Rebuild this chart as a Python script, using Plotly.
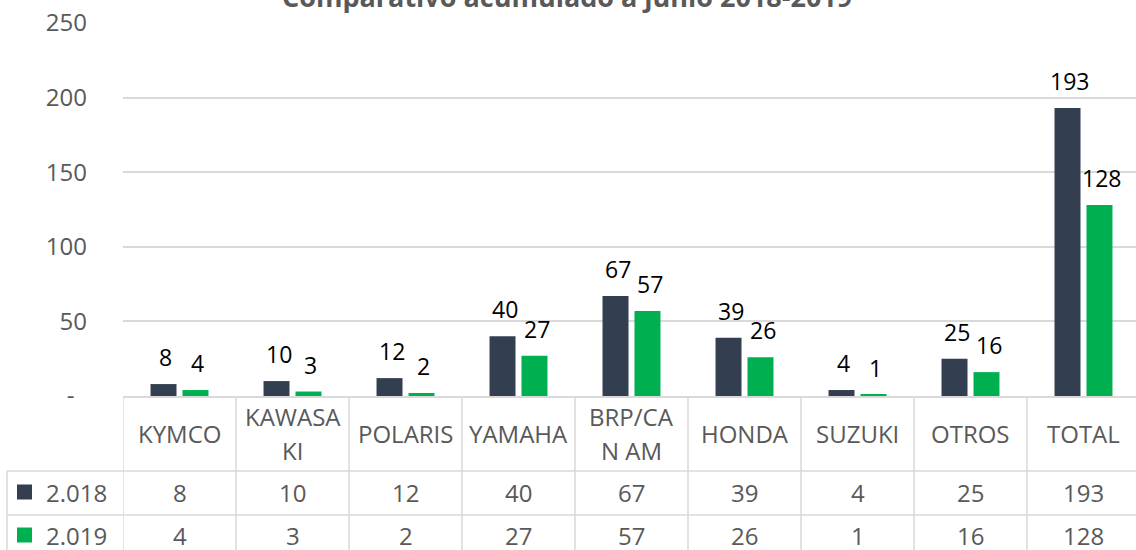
import plotly.graph_objects as go

categories = ["KYMCO", "KAWASAKI", "POLARIS", "YAMAHA", "BRP/CAN AM", "HONDA", "SUZUKI", "OTROS", "TOTAL"]
header_labels = ["KYMCO", "KAWASA\nKI", "POLARIS", "YAMAHA", "BRP/CA\nN AM", "HONDA", "SUZUKI", "OTROS", "TOTAL"]
series_names = ["2.018", "2.019"]
values_2018 = [8, 10, 12, 40, 67, 39, 4, 25, 193]
values_2019 = [4, 3, 2, 27, 57, 26, 1, 16, 128]
colors = ["#333F50", "#00B050"]
title_text = "Comparativo acumulado a junio 2018-2019"
y_ticks = [0, 50, 100, 150, 200, 250]
y_ticktext = ["-\u00a0\u00a0", "50", "100", "150", "200", "250"]

FONT = "Open Sans"
GRAY = "#595959"
LINE = "#D9D9D9"

W, H = 1136, 550
ML, MT, MB = 123, 23, 154
plot_h = H - MT - MB
plot_w = W - ML
cat_w = 113.0

def py(pix):
    """pixel y (from top) -> paper y"""
    return (H - MB - pix) / plot_h

def px(pix):
    return (pix - ML) / plot_w

fig = go.Figure()
series = [values_2018, values_2019]
for name, vals, col in zip(series_names, series, colors):
    fig.add_trace(go.Bar(
        x=list(range(len(categories))), y=vals, name=name,
        marker=dict(color=col, line=dict(width=0)),
        showlegend=False, hoverinfo="skip",
    ))

annotations = []
shapes = []

# data labels
for si, vals in enumerate(series):
    shift = -16 if si == 0 else 16
    for i, v in enumerate(vals):
        annotations.append(dict(
            x=i, y=v, xref="x", yref="y", text=str(v), showarrow=False,
            xshift=shift + 2, yshift=27, yanchor="middle",
            font=dict(family=FONT, size=23, color="#000000"),
        ))

# title (partially cut at top)
annotations.append(dict(
    x=px(567), y=py(17), xref="paper", yref="paper", text="<b>" + title_text + "</b>",
    showarrow=False, xanchor="center", yanchor="bottom",
    font=dict(family=FONT, size=27, color=GRAY),
))

# table header labels
hdr_c = 433
TS = 24
for i, lab in enumerate(header_labels):
    lines = lab.split("\n")
    if len(lines) == 1:
        ys = [hdr_c]
    else:
        ys = [hdr_c - 17, hdr_c + 18]
    for ln, yy in zip(lines, ys):
        annotations.append(dict(
            x=i, y=py(yy), xref="x", yref="paper", text=ln, showarrow=False,
            yanchor="middle", font=dict(family=FONT, size=TS, color=GRAY),
        ))

# table rows
row_c = [492, 535]
for si, vals in enumerate(series):
    for i, v in enumerate(vals):
        annotations.append(dict(
            x=i, y=py(row_c[si]), xref="x", yref="paper", text=str(v), showarrow=False,
            yanchor="middle", font=dict(family=FONT, size=TS, color=GRAY),
        ))
    # legend key + name
    annotations.append(dict(
        x=px(44), y=py(row_c[si]), xref="paper", yref="paper", text=series_names[si],
        showarrow=False, xanchor="left", yanchor="middle",
        font=dict(family=FONT, size=TS, color=GRAY),
    ))
    shapes.append(dict(
        type="rect", xref="paper", yref="paper",
        x0=px(17), x1=px(32), y0=py(row_c[si] - 7.5), y1=py(row_c[si] + 7.5),
        fillcolor=colors[si], line=dict(width=0),
    ))

# table grid lines
for i in range(len(categories) + 1):
    shapes.append(dict(
        type="line", xref="x", yref="paper", x0=i - 0.5, x1=i - 0.5,
        y0=0, y1=py(560), line=dict(color=LINE, width=1.5),
    ))
for yy in [471, 515]:
    shapes.append(dict(
        type="line", xref="paper", yref="paper", x0=px(7), x1=1.01,
        y0=py(yy), y1=py(yy), line=dict(color=LINE, width=1.5),
    ))
shapes.append(dict(
    type="line", xref="paper", yref="paper", x0=px(7), x1=px(7),
    y0=py(471), y1=py(560), line=dict(color=LINE, width=1.5),
))

fig.update_layout(
    width=W, height=H,
    margin=dict(l=ML, r=0, t=MT, b=MB, pad=0),
    paper_bgcolor="white", plot_bgcolor="white",
    barmode="group", bargap=0.434, bargroupgap=0.1875,
    annotations=annotations, shapes=shapes,
    xaxis=dict(
        range=[-0.5, -0.5 + plot_w / cat_w], showticklabels=False, showgrid=False,
        zeroline=False, showline=True, linecolor=LINE, linewidth=1.5, ticks="",
        fixedrange=True,
    ),
    yaxis=dict(
        range=[0, 250], tickvals=y_ticks, ticktext=y_ticktext,
        showgrid=True, gridcolor=LINE, gridwidth=1.5, zeroline=False,
        showline=False, ticks="", ticklabelstandoff=35,
        tickfont=dict(family=FONT, size=24, color=GRAY), fixedrange=True,
    ),
    font=dict(family=FONT),
)

fig.write_html(
    "out.html",
    config={"displayModeBar": False},
    post_script="document.body.style.margin='0';document.body.style.overflow='hidden';",
)
